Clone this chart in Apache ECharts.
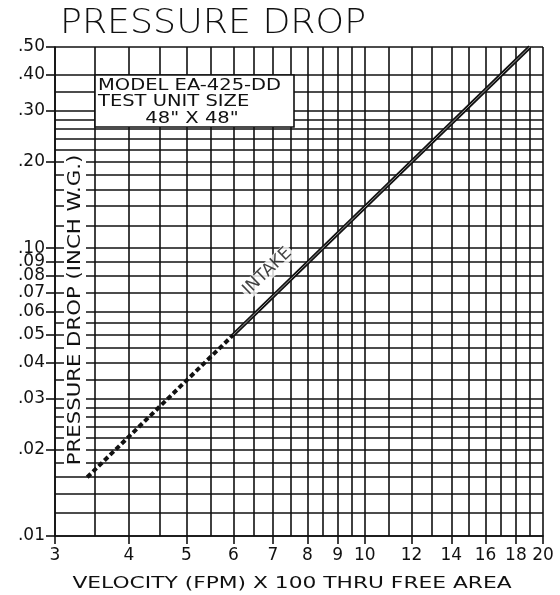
<!DOCTYPE html>
<html>
<head>
<meta charset="utf-8">
<style>html,body{margin:0;padding:0;background:#fff}#chart{width:560px;height:595px}</style>
<script src="https://cdn.jsdelivr.net/npm/echarts@6/dist/echarts.min.js"></script>
</head>
<body>
<div id="chart"></div>
<script>
var chart = echarts.init(document.getElementById('chart'));

// log-log sheet: velocity (fpm x 100) vs pressure drop (in. w.g.)
const xGrid = [3, 3.5, 4, 4.5, 5, 5.5, 6, 6.5, 7, 7.5, 8, 8.5, 9, 9.5, 10, 11, 12, 13, 14, 15, 16, 17, 18, 19, 20];
const xTicks = [3, 4, 5, 6, 7, 8, 9, 10, 12, 14, 16, 18, 20];
const yGrid = [0.01, 0.012, 0.014, 0.016, 0.018, 0.02, 0.022, 0.024, 0.026, 0.028, 0.03, 0.035, 0.04, 0.045,
  0.05, 0.055, 0.06, 0.07, 0.08, 0.09, 0.1, 0.12, 0.14, 0.16, 0.18, 0.2, 0.22, 0.24, 0.26, 0.28, 0.3, 0.35, 0.4, 0.5];
const yTicks = [0.01, 0.02, 0.03, 0.04, 0.05, 0.06, 0.07, 0.08, 0.09, 0.1, 0.2, 0.3, 0.4, 0.5];

// intake curve, dashed below 600 fpm
const dashedPart = [[3.4, 0.016], [6, 0.05]];
const solidPart = [[6, 0.05], [19, 0.5]];
const curveLabel = [[6.85, 0.083, 'INTAKE']];

const boxLines = ['MODEL EA-425-DD', 'TEST UNIT SIZE', '48" X 48"'];

const FONT = 'DejaVu Sans';
const INK = '#111';
const lg = v => Math.log10(v);
const toLog = pts => pts.map(p => [lg(p[0]), lg(p[1])]);
const gridLine = { color: INK, width: 1.6 };

var option = {
  animation: false,
  grid: { left: 55, right: 17, top: 47, bottom: 59, outerBoundsMode: 'none' },
  xAxis: [
    {
      type: 'value', min: lg(3), max: lg(20),
      axisLine: { show: true, onZero: false, lineStyle: gridLine },
      axisTick: { show: false, customValues: xGrid.map(lg) },
      axisLabel: { show: false },
      splitLine: { show: true, lineStyle: gridLine }
    },
    {
      type: 'value', min: lg(3), max: lg(20), position: 'bottom',
      axisLine: { show: false, onZero: false },
      axisTick: { show: true, length: 8, customValues: xTicks.map(lg), lineStyle: gridLine },
      axisLabel: {
        customValues: xTicks.map(lg),
        margin: 11, fontSize: 17, color: INK, fontFamily: FONT,
        formatter: v => String(Math.round(Math.pow(10, v) * 10) / 10)
      },
      splitLine: { show: false }
    }
  ],
  yAxis: [
    {
      type: 'value', min: lg(0.01), max: lg(0.5),
      axisLine: { show: true, onZero: false, lineStyle: gridLine },
      axisTick: { show: false, customValues: yGrid.map(lg) },
      axisLabel: { show: false },
      splitLine: { show: true, lineStyle: gridLine }
    },
    {
      type: 'value', min: lg(0.01), max: lg(0.5), position: 'left',
      axisLine: { show: false, onZero: false },
      axisTick: { show: true, length: 9, customValues: yTicks.map(lg), lineStyle: gridLine },
      axisLabel: {
        customValues: yTicks.map(lg),
        margin: 10, fontSize: 17, color: INK, fontFamily: FONT,
        formatter: v => '.' + String(Math.round(Math.pow(10, v) * 100)).padStart(2, '0')
      },
      splitLine: { show: false }
    }
  ],
  series: [
    {
      type: 'line', data: toLog(dashedPart), symbol: 'none', silent: true, z: 5,
      lineStyle: { type: [5, 3], width: 4, color: INK, cap: 'butt' }
    },
    {
      type: 'line', data: toLog(solidPart), symbol: 'none', silent: true, z: 5,
      lineStyle: { width: 4, color: INK }
    },
    {
      type: 'line', data: toLog(solidPart), symbol: 'none', silent: true, z: 6,
      lineStyle: { width: 1, color: '#999' }
    },
    {
      type: 'scatter', symbolSize: 0, silent: true, z: 7,
      data: curveLabel.map(p => [lg(p[0]), lg(p[1]), p[2]]),
      label: {
        show: true, position: 'inside', rotate: 44,
        formatter: p => p.data[2],
        fontSize: 17, fontFamily: FONT, color: INK,
        backgroundColor: '#fff', padding: [0, 2]
      }
    }
  ],
  graphic: [
    {
      type: 'text', x: 60, y: 24, scaleX: 1.1, z: 100,
      style: { text: 'PRESSURE DROP', fontSize: 33, fontFamily: FONT, fontWeight: 200, fill: INK,
        textAlign: 'left', textVerticalAlign: 'middle' }
    },
    {
      type: 'rect', z: 100,
      shape: { x: 95, y: 75, width: 199, height: 52 },
      style: { fill: '#fff', stroke: INK, lineWidth: 1.6 }
    },
    {
      type: 'text', x: 98, y: 86.5, scaleX: 1.3, z: 101,
      style: { text: boxLines[0], fontSize: 15, fontFamily: FONT, fill: INK, textAlign: 'left', textVerticalAlign: 'middle' }
    },
    {
      type: 'text', x: 98, y: 102, scaleX: 1.3, z: 101,
      style: { text: boxLines[1], fontSize: 15, fontFamily: FONT, fill: INK, textAlign: 'left', textVerticalAlign: 'middle' }
    },
    {
      type: 'text', x: 192, y: 119, scaleX: 1.3, z: 101,
      style: { text: boxLines[2], fontSize: 15, fontFamily: FONT, fill: INK, textAlign: 'center', textVerticalAlign: 'middle' }
    },
    {
      type: 'text', x: 75, y: 310, rotation: Math.PI / 2, scaleX: 1.18, z: 100,
      style: { text: 'PRESSURE DROP (INCH W.G.)', fontSize: 18, fontFamily: FONT, fill: INK,
        textAlign: 'center', textVerticalAlign: 'middle', backgroundColor: '#fff', padding: [2, 3] }
    },
    {
      type: 'text', x: 292, y: 584, scaleX: 1.36, z: 100,
      style: { text: 'VELOCITY (FPM) X 100 THRU FREE AREA', fontSize: 16, fontFamily: FONT, fill: INK,
        textAlign: 'center', textVerticalAlign: 'middle' }
    }
  ]
};

chart.setOption(option);
</script>
</body>
</html>
